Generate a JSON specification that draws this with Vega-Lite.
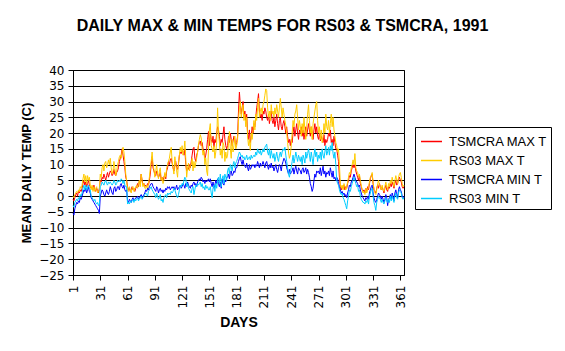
{
"$schema":"https://vega.github.io/schema/vega-lite/v6.json",
"width":331,"height":205,
"autosize":{"type":"none"},
"padding":{"left":73,"top":70,"right":161,"bottom":76},
"background":"white",
"config":{"view":{"stroke":"black","strokeWidth":1},"font":"Liberation Sans"},
"title":{"text":"DAILY MAX & MIN TEMPS FOR RS03 & TSMCRA, 1991","font":"Liberation Sans","fontSize":16,"fontWeight":"bold","color":"black","anchor":"middle","frame":"group","dx":44,"offset":30},
"data":{"values":[
{"d":1,"a":-1,"b":0,"c":-5.5,"e":-3},{"d":2,"a":-1.5,"b":-0.5,"c":-6,"e":-3.5},{"d":3,"a":-0.5,"b":0.5,"c":-4,"e":-2},{"d":4,"a":0.5,"b":1,"c":-3,"e":-1.5},{"d":5,"a":1,"b":1.5,"c":-2,"e":-1},{"d":6,"a":0,"b":1,"c":-2.5,"e":-1.5},{"d":7,"a":1.5,"b":2,"c":-1.5,"e":-0.5},{"d":8,"a":1,"b":1.5,"c":-2,"e":-1},{"d":9,"a":2,"b":3,"c":-0.5,"e":0.5},{"d":10,"a":1.5,"b":2.5,"c":-1,"e":0},
{"d":11,"a":2.5,"b":3.5,"c":0,"e":1},{"d":12,"a":4,"b":5.5,"c":1,"e":2.5},{"d":13,"a":5,"b":7,"c":2,"e":3.5},{"d":14,"a":3.5,"b":4.5,"c":1.5,"e":2},{"d":15,"a":4.5,"b":6.5,"c":2.5,"e":3.5},{"d":16,"a":3,"b":4,"c":1,"e":2},{"d":17,"a":4,"b":6.5,"c":2,"e":3},{"d":18,"a":5,"b":5,"c":3,"e":3.5},{"d":19,"a":3.5,"b":6,"c":1.5,"e":2.5},{"d":20,"a":3,"b":3.5,"c":1,"e":2},
{"d":21,"a":2.5,"b":2,"c":-0.5,"e":0},{"d":22,"a":3,"b":3.5,"c":-1,"e":-0.5},{"d":23,"a":2,"b":1.5,"c":-1.5,"e":-1},{"d":24,"a":3.5,"b":3,"c":-2,"e":-1.5},{"d":25,"a":2,"b":1.5,"c":-2.5,"e":-1},{"d":26,"a":1.5,"b":2.5,"c":-3,"e":-2},{"d":27,"a":2.5,"b":3,"c":-3.5,"e":-2.5},{"d":28,"a":2,"b":1,"c":-4,"e":-2},{"d":29,"a":1,"b":1.5,"c":-4.5,"e":-3},{"d":30,"a":2.5,"b":2,"c":-5.5,"e":-2.5},
{"d":31,"a":5,"b":7,"c":0,"e":3},{"d":32,"a":4.5,"b":6,"c":1,"e":3.5},{"d":33,"a":6,"b":9,"c":2,"e":4.5},{"d":34,"a":5.5,"b":10,"c":1.5,"e":4},{"d":35,"a":7,"b":8,"c":0.5,"e":3.5},{"d":36,"a":6,"b":10.5,"c":0,"e":4.5},{"d":37,"a":5,"b":11,"c":1,"e":5},{"d":38,"a":6.5,"b":9,"c":2,"e":4},{"d":39,"a":7.5,"b":10,"c":1,"e":3.5},{"d":40,"a":6,"b":11.5,"c":0.5,"e":4.5},
{"d":41,"a":7,"b":10,"c":1.5,"e":4},{"d":42,"a":8,"b":12,"c":3,"e":4.5},{"d":43,"a":7.5,"b":9,"c":2,"e":4},{"d":44,"a":6.5,"b":7,"c":1,"e":3.5},{"d":45,"a":7,"b":8,"c":0.5,"e":4},{"d":46,"a":8.5,"b":11,"c":2.5,"e":5},{"d":47,"a":7,"b":9,"c":3,"e":4.5},{"d":48,"a":6.5,"b":6.5,"c":1.5,"e":3.5},{"d":49,"a":7.5,"b":8,"c":2,"e":4},{"d":50,"a":8,"b":10,"c":3,"e":5},
{"d":51,"a":9,"b":11,"c":3,"e":4.5},{"d":52,"a":11,"b":12.5,"c":2,"e":5},{"d":53,"a":12,"b":13,"c":3.5,"e":4.5},{"d":54,"a":13,"b":12,"c":4,"e":5.5},{"d":55,"a":15,"b":14,"c":3,"e":5},{"d":56,"a":13,"b":15.5,"c":2.5,"e":4},{"d":57,"a":11,"b":14,"c":3.5,"e":5},{"d":58,"a":9,"b":11,"c":2,"e":3.5},{"d":59,"a":6,"b":7,"c":1.5,"e":3},{"d":60,"a":5,"b":5,"c":2,"e":3},
{"d":61,"a":3,"b":2,"c":-1.5,"e":-2.5},{"d":62,"a":2,"b":1.5,"c":-2,"e":-2},{"d":63,"a":2.5,"b":3,"c":-1,"e":-2.5},{"d":64,"a":1.5,"b":2,"c":-1.5,"e":-1.5},{"d":65,"a":2,"b":1,"c":-2,"e":-2},{"d":66,"a":3,"b":2.5,"c":-1,"e":-1.5},{"d":67,"a":2,"b":3,"c":-0.5,"e":-1},{"d":68,"a":2.5,"b":1.5,"c":-1.5,"e":-2},{"d":69,"a":1.5,"b":2.5,"c":-1,"e":-1},{"d":70,"a":2.5,"b":3,"c":-0.5,"e":-1.5},
{"d":71,"a":3,"b":3.5,"c":-0.5,"e":-1},{"d":72,"a":4,"b":2.5,"c":0,"e":-0.5},{"d":73,"a":3,"b":4,"c":-1,"e":-1.5},{"d":74,"a":5,"b":5,"c":-0.5,"e":-1},{"d":75,"a":4,"b":3,"c":0,"e":-0.5},{"d":76,"a":7,"b":7,"c":0.5,"e":0},{"d":77,"a":5,"b":4.5,"c":-0.5,"e":-1},{"d":78,"a":3.5,"b":3,"c":0,"e":-0.5},{"d":79,"a":4,"b":4,"c":0.5,"e":0},{"d":80,"a":3,"b":2.5,"c":1,"e":0.5},
{"d":81,"a":3.5,"b":2.5,"c":2,"e":1},{"d":82,"a":3,"b":3.5,"c":1.5,"e":0.5},{"d":83,"a":4,"b":2,"c":2.5,"e":0},{"d":84,"a":3.5,"b":4,"c":2,"e":1.5},{"d":85,"a":5,"b":6,"c":3,"e":2},{"d":86,"a":7,"b":9,"c":3.5,"e":2.5},{"d":87,"a":10,"b":11,"c":4,"e":3},{"d":88,"a":12.5,"b":14,"c":4,"e":2},{"d":89,"a":9,"b":10,"c":3,"e":1.5},{"d":90,"a":8,"b":8.5,"c":2.5,"e":1},
{"d":91,"a":7,"b":6,"c":2,"e":0.5},{"d":92,"a":6.5,"b":8,"c":1.5,"e":-0.5},{"d":93,"a":8,"b":10,"c":3,"e":1},{"d":94,"a":7,"b":7,"c":2.5,"e":0},{"d":95,"a":6,"b":5.5,"c":1,"e":-1},{"d":96,"a":6.5,"b":8,"c":2,"e":-0.5},{"d":97,"a":7.5,"b":9,"c":2.5,"e":0.5},{"d":98,"a":5,"b":5,"c":1.5,"e":-1.5},{"d":99,"a":6,"b":6,"c":2,"e":-1},{"d":100,"a":5,"b":4,"c":1,"e":-2},
{"d":101,"a":6,"b":5,"c":2,"e":-0.5},{"d":102,"a":7,"b":7.5,"c":1.5,"e":0},{"d":103,"a":5.5,"b":6,"c":2.5,"e":0.5},{"d":104,"a":8,"b":9,"c":2,"e":-0.5},{"d":105,"a":9,"b":10,"c":3,"e":1},{"d":106,"a":11,"b":11,"c":2.5,"e":0.5},{"d":107,"a":10,"b":12,"c":3,"e":1},{"d":108,"a":11.5,"b":14,"c":2,"e":0.5},{"d":109,"a":12,"b":15.5,"c":2.5,"e":1.5},{"d":110,"a":10.5,"b":11,"c":3,"e":1},
{"d":111,"a":9,"b":9,"c":2.5,"e":1.5},{"d":112,"a":8,"b":7,"c":3,"e":2.5},{"d":113,"a":10,"b":12.5,"c":2,"e":2},{"d":114,"a":11,"b":10,"c":2.5,"e":1},{"d":115,"a":9,"b":8,"c":3.5,"e":0},{"d":116,"a":8.5,"b":6,"c":2,"e":-0.5},{"d":117,"a":10,"b":11,"c":2.5,"e":0.5},{"d":118,"a":13,"b":13,"c":3,"e":2},{"d":119,"a":14,"b":15.5,"c":3.5,"e":3.5},{"d":120,"a":13.5,"b":14,"c":2.5,"e":3},
{"d":121,"a":15,"b":16,"c":3,"e":4},{"d":122,"a":14,"b":13,"c":4,"e":3.5},{"d":123,"a":13,"b":14.5,"c":3.5,"e":5},{"d":124,"a":15,"b":17.5,"c":2.5,"e":6},{"d":125,"a":10,"b":12,"c":4,"e":5.5},{"d":126,"a":8,"b":6,"c":3,"e":3},{"d":127,"a":9,"b":9,"c":4.5,"e":4},{"d":128,"a":8.5,"b":10.5,"c":3.5,"e":2.5},{"d":129,"a":10,"b":8,"c":3,"e":2},{"d":130,"a":9,"b":9.5,"c":2.5,"e":1.5},
{"d":131,"a":11,"b":10,"c":3.5,"e":1},{"d":132,"a":13,"b":12,"c":3,"e":2.5},{"d":133,"a":15,"b":8,"c":4,"e":3},{"d":134,"a":15.5,"b":11,"c":4.5,"e":0.5},{"d":135,"a":12,"b":9,"c":3.5,"e":2},{"d":136,"a":11,"b":10.5,"c":4,"e":3.5},{"d":137,"a":13,"b":12,"c":3,"e":3},{"d":138,"a":14,"b":14,"c":4.5,"e":4},{"d":139,"a":16,"b":16.5,"c":5,"e":3.5},{"d":140,"a":17,"b":18,"c":5.5,"e":4},
{"d":141,"a":17.5,"b":19.5,"c":5,"e":4.5},{"d":142,"a":16,"b":18.5,"c":6,"e":3},{"d":143,"a":17,"b":15,"c":5.5,"e":4},{"d":144,"a":15,"b":13,"c":4.5,"e":2.5},{"d":145,"a":14,"b":14.5,"c":5,"e":3},{"d":146,"a":12,"b":10,"c":4,"e":2},{"d":147,"a":13,"b":12,"c":5,"e":3.5},{"d":148,"a":15,"b":8,"c":4.5,"e":2.5},{"d":149,"a":18,"b":6.5,"c":5,"e":3},{"d":150,"a":20.5,"b":15,"c":5.5,"e":2},
{"d":151,"a":16,"b":21,"c":4.5,"e":2},{"d":152,"a":20,"b":23,"c":5.5,"e":3},{"d":153,"a":18,"b":16,"c":4,"e":1},{"d":154,"a":17,"b":15,"c":3,"e":-0.5},{"d":155,"a":19,"b":14,"c":4.5,"e":2.5},{"d":156,"a":15.5,"b":16,"c":2.5,"e":3.5},{"d":157,"a":18,"b":12,"c":3.5,"e":1.5},{"d":158,"a":17,"b":14,"c":5,"e":4},{"d":159,"a":20,"b":17,"c":4,"e":2.5},{"d":160,"a":22,"b":28,"c":5.5,"e":5},
{"d":161,"a":21,"b":20,"c":4,"e":6},{"d":162,"a":19,"b":17,"c":3,"e":4},{"d":163,"a":16,"b":13,"c":4.5,"e":7},{"d":164,"a":18,"b":15,"c":2.5,"e":3},{"d":165,"a":17,"b":12,"c":5.5,"e":5.5},{"d":166,"a":19.5,"b":17,"c":4,"e":6.5},{"d":167,"a":22,"b":16,"c":3.5,"e":4},{"d":168,"a":18,"b":11,"c":5,"e":7},{"d":169,"a":16,"b":14,"c":4.5,"e":6},{"d":170,"a":15,"b":12,"c":6,"e":5},
{"d":171,"a":16,"b":13,"c":6,"e":8},{"d":172,"a":19,"b":17,"c":7,"e":9},{"d":173,"a":17,"b":20.5,"c":5.5,"e":7},{"d":174,"a":20,"b":15,"c":7.5,"e":10},{"d":175,"a":18,"b":12,"c":8,"e":9.5},{"d":176,"a":16,"b":18,"c":6.5,"e":8},{"d":177,"a":17.5,"b":14,"c":7,"e":10},{"d":178,"a":19,"b":16,"c":8,"e":11},{"d":179,"a":18,"b":19,"c":7.5,"e":9},{"d":180,"a":16,"b":15,"c":9,"e":10.5},
{"d":181,"a":17,"b":16,"c":9,"e":11},{"d":182,"a":19,"b":18,"c":10,"e":12},{"d":183,"a":27,"b":24,"c":11,"e":13},{"d":184,"a":33,"b":28,"c":12,"e":14},{"d":185,"a":29,"b":30,"c":12.5,"e":13.5},{"d":186,"a":26,"b":25,"c":11,"e":12.5},{"d":187,"a":28,"b":27,"c":10,"e":13},{"d":188,"a":30,"b":29,"c":11.5,"e":12},{"d":189,"a":25,"b":24,"c":10,"e":12.5},{"d":190,"a":27,"b":26,"c":9.5,"e":11.5},
{"d":191,"a":24,"b":22,"c":9,"e":12},{"d":192,"a":26,"b":25,"c":10.5,"e":13},{"d":193,"a":20,"b":19,"c":9,"e":11.5},{"d":194,"a":18,"b":16,"c":8,"e":12},{"d":195,"a":21,"b":18,"c":10,"e":12.5},{"d":196,"a":17,"b":14.5,"c":8.5,"e":11.5},{"d":197,"a":19,"b":20,"c":9,"e":13},{"d":198,"a":22,"b":18,"c":10,"e":12},{"d":199,"a":20,"b":21,"c":9.5,"e":12.5},{"d":200,"a":23,"b":24,"c":10,"e":13},
{"d":201,"a":22,"b":21,"c":9,"e":12.5},{"d":202,"a":25,"b":26,"c":10,"e":14},{"d":203,"a":28,"b":24,"c":9.5,"e":13},{"d":204,"a":30,"b":28,"c":11,"e":15},{"d":205,"a":32.5,"b":31,"c":10,"e":14},{"d":206,"a":27,"b":25,"c":9,"e":13.5},{"d":207,"a":25,"b":27,"c":10.5,"e":14.5},{"d":208,"a":26,"b":28,"c":9.5,"e":13},{"d":209,"a":24,"b":26,"c":10,"e":14},{"d":210,"a":27,"b":29,"c":11,"e":15},
{"d":211,"a":26,"b":30,"c":10,"e":14},{"d":212,"a":28,"b":32,"c":9,"e":15.5},{"d":213,"a":27,"b":34,"c":10.5,"e":16},{"d":214,"a":25,"b":33.5,"c":11,"e":16.5},{"d":215,"a":24,"b":28,"c":9.5,"e":14},{"d":216,"a":26,"b":25,"c":8.5,"e":13},{"d":217,"a":23,"b":27,"c":10,"e":15},{"d":218,"a":25,"b":24,"c":9,"e":12},{"d":219,"a":27,"b":29,"c":10.5,"e":14.5},{"d":220,"a":24,"b":26,"c":9,"e":13},
{"d":221,"a":23,"b":27,"c":9.5,"e":12},{"d":222,"a":25,"b":25,"c":8,"e":13.5},{"d":223,"a":22,"b":28,"c":9,"e":11},{"d":224,"a":24,"b":26,"c":10,"e":12.5},{"d":225,"a":26,"b":29,"c":8.5,"e":14},{"d":226,"a":23,"b":27,"c":7.5,"e":12},{"d":227,"a":21,"b":25,"c":9,"e":11},{"d":228,"a":24,"b":28,"c":10,"e":13},{"d":229,"a":25,"b":31,"c":9.5,"e":14},{"d":230,"a":22,"b":28,"c":8,"e":12.5},
{"d":231,"a":21,"b":25,"c":10,"e":14},{"d":232,"a":23,"b":28,"c":11,"e":15},{"d":233,"a":24,"b":26,"c":12,"e":14.5},{"d":234,"a":22,"b":24,"c":11.5,"e":15.5},{"d":235,"a":20,"b":22.5,"c":10.5,"e":13},{"d":236,"a":22,"b":20,"c":9,"e":11},{"d":237,"a":19,"b":17,"c":8,"e":9},{"d":238,"a":17,"b":14,"c":7,"e":7},{"d":239,"a":18,"b":12,"c":8.5,"e":6},{"d":240,"a":16,"b":13,"c":7,"e":8},
{"d":241,"a":18,"b":16,"c":7.5,"e":9},{"d":242,"a":17,"b":20,"c":8,"e":11},{"d":243,"a":20,"b":24,"c":9,"e":13},{"d":244,"a":22,"b":22,"c":7,"e":10.5},{"d":245,"a":19,"b":26,"c":8.5,"e":12},{"d":246,"a":21,"b":27,"c":9.5,"e":14},{"d":247,"a":23,"b":29,"c":8,"e":12.5},{"d":248,"a":20,"b":25,"c":7,"e":11},{"d":249,"a":18,"b":21,"c":9,"e":13},{"d":250,"a":21,"b":24,"c":8.5,"e":12},
{"d":251,"a":20,"b":22,"c":8,"e":11},{"d":252,"a":22,"b":19,"c":7,"e":12.5},{"d":253,"a":19,"b":23,"c":8.5,"e":10},{"d":254,"a":21,"b":20,"c":9,"e":13},{"d":255,"a":18,"b":25,"c":7.5,"e":12},{"d":256,"a":20,"b":21,"c":8,"e":10.5},{"d":257,"a":22,"b":18,"c":9,"e":14},{"d":258,"a":19,"b":22,"c":7,"e":12},{"d":259,"a":21,"b":26,"c":8.5,"e":13.5},{"d":260,"a":23,"b":29,"c":7.5,"e":15},
{"d":261,"a":21,"b":24,"c":6,"e":13},{"d":262,"a":19,"b":20,"c":4,"e":11},{"d":263,"a":22,"b":22,"c":3,"e":14},{"d":264,"a":20,"b":18,"c":1.5,"e":12},{"d":265,"a":18,"b":23,"c":2.5,"e":10},{"d":266,"a":21,"b":25,"c":5,"e":13},{"d":267,"a":23,"b":27,"c":7,"e":15},{"d":268,"a":20,"b":29,"c":6,"e":12.5},{"d":269,"a":22,"b":30,"c":8,"e":14},{"d":270,"a":19,"b":24,"c":7.5,"e":11},
{"d":271,"a":18,"b":20,"c":8,"e":13},{"d":272,"a":20,"b":22,"c":7,"e":12},{"d":273,"a":17.5,"b":18,"c":9,"e":14},{"d":274,"a":19,"b":21,"c":6.5,"e":11.5},{"d":275,"a":18,"b":17,"c":8,"e":15},{"d":276,"a":17,"b":19,"c":9.5,"e":13},{"d":277,"a":19.5,"b":23,"c":7,"e":12},{"d":278,"a":16,"b":20,"c":8,"e":14},{"d":279,"a":18,"b":26,"c":6,"e":16},{"d":280,"a":17,"b":22,"c":7.5,"e":13},
{"d":281,"a":18,"b":21,"c":7,"e":14},{"d":282,"a":20,"b":24,"c":8,"e":15.5},{"d":283,"a":19,"b":20,"c":6.5,"e":13},{"d":284,"a":21,"b":23,"c":9,"e":16},{"d":285,"a":17,"b":26,"c":7.5,"e":14.5},{"d":286,"a":18,"b":22,"c":6,"e":17},{"d":287,"a":16,"b":25,"c":8,"e":13.5},{"d":288,"a":19,"b":21,"c":5.5,"e":12},{"d":289,"a":17,"b":19,"c":6,"e":14},{"d":290,"a":15,"b":17,"c":5,"e":10},
{"d":291,"a":15,"b":16,"c":6,"e":5},{"d":292,"a":13,"b":14,"c":5.5,"e":4},{"d":293,"a":11,"b":15,"c":4,"e":3.5},{"d":294,"a":6,"b":10,"c":3,"e":2},{"d":295,"a":3,"b":4,"c":2,"e":1},{"d":296,"a":2,"b":2.5,"c":1,"e":0.5},{"d":297,"a":3,"b":3.5,"c":1.5,"e":1},{"d":298,"a":2.5,"b":2,"c":0.5,"e":-0.5},{"d":299,"a":3.5,"b":4,"c":1,"e":-1},{"d":300,"a":2,"b":3,"c":0,"e":-2},
{"d":301,"a":3,"b":2,"c":0.5,"e":-3},{"d":302,"a":2.5,"b":3,"c":-0.5,"e":-4},{"d":303,"a":4,"b":4.5,"c":1,"e":-1.5},{"d":304,"a":5,"b":6,"c":2,"e":0},{"d":305,"a":6.5,"b":7.5,"c":3.5,"e":2},{"d":306,"a":6,"b":7,"c":3,"e":1.5},{"d":307,"a":8,"b":9,"c":4.5,"e":3},{"d":308,"a":9,"b":10,"c":5,"e":4},{"d":309,"a":10,"b":11.5,"c":6,"e":5},{"d":310,"a":9,"b":10,"c":7,"e":6},
{"d":311,"a":10,"b":13.5,"c":6,"e":5},{"d":312,"a":8,"b":9,"c":5,"e":4},{"d":313,"a":7,"b":8,"c":4.5,"e":3},{"d":314,"a":6,"b":7.5,"c":4,"e":3.5},{"d":315,"a":5,"b":6,"c":3,"e":1.5},{"d":316,"a":6.5,"b":7,"c":3.5,"e":2},{"d":317,"a":4,"b":5,"c":2,"e":0},{"d":318,"a":3,"b":3.5,"c":1,"e":-1},{"d":319,"a":2,"b":2,"c":0,"e":-1.5},{"d":320,"a":1.5,"b":1,"c":-0.5,"e":-2},
{"d":321,"a":2,"b":1.5,"c":-1,"e":-2},{"d":322,"a":1,"b":0.5,"c":-1.5,"e":-2.5},{"d":323,"a":2.5,"b":2.5,"c":-0.5,"e":-1.5},{"d":324,"a":1.5,"b":1,"c":-1,"e":-2},{"d":325,"a":3,"b":2,"c":0,"e":-1},{"d":326,"a":2,"b":3,"c":-1,"e":-2.5},{"d":327,"a":4,"b":4.5,"c":1,"e":0},{"d":328,"a":5.5,"b":6,"c":2,"e":1},{"d":329,"a":6.5,"b":6.5,"c":3,"e":2},{"d":330,"a":7,"b":7.5,"c":3.5,"e":2.5},
{"d":331,"a":4,"b":4,"c":1,"e":0},{"d":332,"a":2,"b":2.5,"c":-0.5,"e":-2},{"d":333,"a":1.5,"b":1,"c":-1.5,"e":-3},{"d":334,"a":1,"b":0.5,"c":-2,"e":-4.5},{"d":335,"a":2.5,"b":2,"c":-1,"e":-2},{"d":336,"a":3.5,"b":4,"c":0,"e":-1},{"d":337,"a":2.5,"b":5,"c":1,"e":0},{"d":338,"a":4,"b":3.5,"c":0.5,"e":-0.5},{"d":339,"a":3,"b":3,"c":0,"e":-1},{"d":340,"a":2,"b":2,"c":-1,"e":-2},
{"d":341,"a":3,"b":3.5,"c":0,"e":-1},{"d":342,"a":2,"b":2,"c":-1,"e":-2},{"d":343,"a":1,"b":1.5,"c":-2,"e":-2.5},{"d":344,"a":2.5,"b":3,"c":-1,"e":-1.5},{"d":345,"a":3.5,"b":4.5,"c":0.5,"e":-0.5},{"d":346,"a":2,"b":3,"c":-0.5,"e":-1.5},{"d":347,"a":1.5,"b":2,"c":-3,"e":-2},{"d":348,"a":3,"b":4,"c":-1,"e":-1},{"d":349,"a":2.5,"b":3,"c":-0.5,"e":-2},{"d":350,"a":4,"b":5,"c":0.5,"e":0},
{"d":351,"a":3,"b":4,"c":-1,"e":-1.5},{"d":352,"a":4.5,"b":6,"c":1,"e":0},{"d":353,"a":3.5,"b":4.5,"c":0,"e":-1},{"d":354,"a":2.5,"b":3,"c":-1.5,"e":-2},{"d":355,"a":4,"b":5,"c":1,"e":0},{"d":356,"a":5,"b":6.5,"c":2,"e":1},{"d":357,"a":3.5,"b":5,"c":0.5,"e":-0.5},{"d":358,"a":4,"b":4,"c":-0.5,"e":-1},{"d":359,"a":5.5,"b":6,"c":2,"e":1},{"d":360,"a":6,"b":7,"c":3,"e":2},
{"d":361,"a":5,"b":7.5,"c":2,"e":1.5},{"d":362,"a":4.5,"b":6,"c":1.5,"e":1},{"d":363,"a":3,"b":4,"c":0,"e":-0.5},{"d":364,"a":2.5,"b":3,"c":-0.5,"e":-1},{"d":365,"a":3,"b":3.5,"c":0,"e":-0.5}
]},
"transform":[{"fold":["a","b","c","e"],"as":["key","value"]}],
"encoding":{
"x":{"field":"d","type":"quantitative","scale":{"domain":[1,365],"nice":false,"zero":false},
"axis":{"values":[1,31,61,91,121,151,181,211,241,271,301,331,361],"labelAngle":270,"labelFont":"DejaVu Sans","labelFontSize":12,"labelColor":"black","labelPadding":5,"labelFlush":false,"labelOverlap":false,"tickColor":"black","tickSize":5,"domainColor":"black","grid":false,"title":"DAYS","titleFont":"Liberation Sans","titleFontSize":14,"titleFontWeight":"bold","titleColor":"black","titlePadding":8}},
"y":{"field":"value","type":"quantitative","scale":{"domain":[-25,40],"nice":false,"zero":false},
"axis":{"values":[-25,-20,-15,-10,-5,0,5,10,15,20,25,30,35,40],"labelFont":"DejaVu Sans","labelFontSize":12,"labelColor":"black","labelPadding":4,"labelFlush":false,"labelOverlap":false,"tickColor":"black","tickSize":5,"domainColor":"black","grid":true,"gridColor":"black","gridOpacity":1,"gridWidth":1,"title":"MEAN DAILY TEMP (C)","titleFont":"Liberation Sans","titleFontSize":13,"titleFontWeight":"bold","titleColor":"black","titlePadding":5}},
"color":{"field":"key","type":"nominal","scale":{"domain":["a","b","c","e"],"range":["#ff0000","#ffcc00","#0000ff","#00ccff"]},
"legend":{"title":null,"orient":"none","legendX":342,"legendY":57,"labelExpr":"{'a':'TSMCRA MAX T','b':'RS03 MAX T','c':'TSMCRA MIN T','e':'RS03 MIN T'}[datum.label]","symbolType":"stroke","symbolSize":441,"symbolStrokeWidth":1.5,"symbolOffset":2,"labelFont":"Liberation Sans","labelFontSize":13,"labelColor":"black","labelOffset":6,"rowPadding":0,"padding":3,"strokeColor":"black","fillColor":"white"}}
},
"layer":[
{"transform":[{"filter":"datum.key==='a'"}],"mark":{"type":"line","strokeWidth":1}},
{"transform":[{"filter":"datum.key==='b'"}],"mark":{"type":"line","strokeWidth":1}},
{"transform":[{"filter":"datum.key==='c'"}],"mark":{"type":"line","strokeWidth":1}},
{"transform":[{"filter":"datum.key==='e'"}],"mark":{"type":"line","strokeWidth":1}}
]
}
